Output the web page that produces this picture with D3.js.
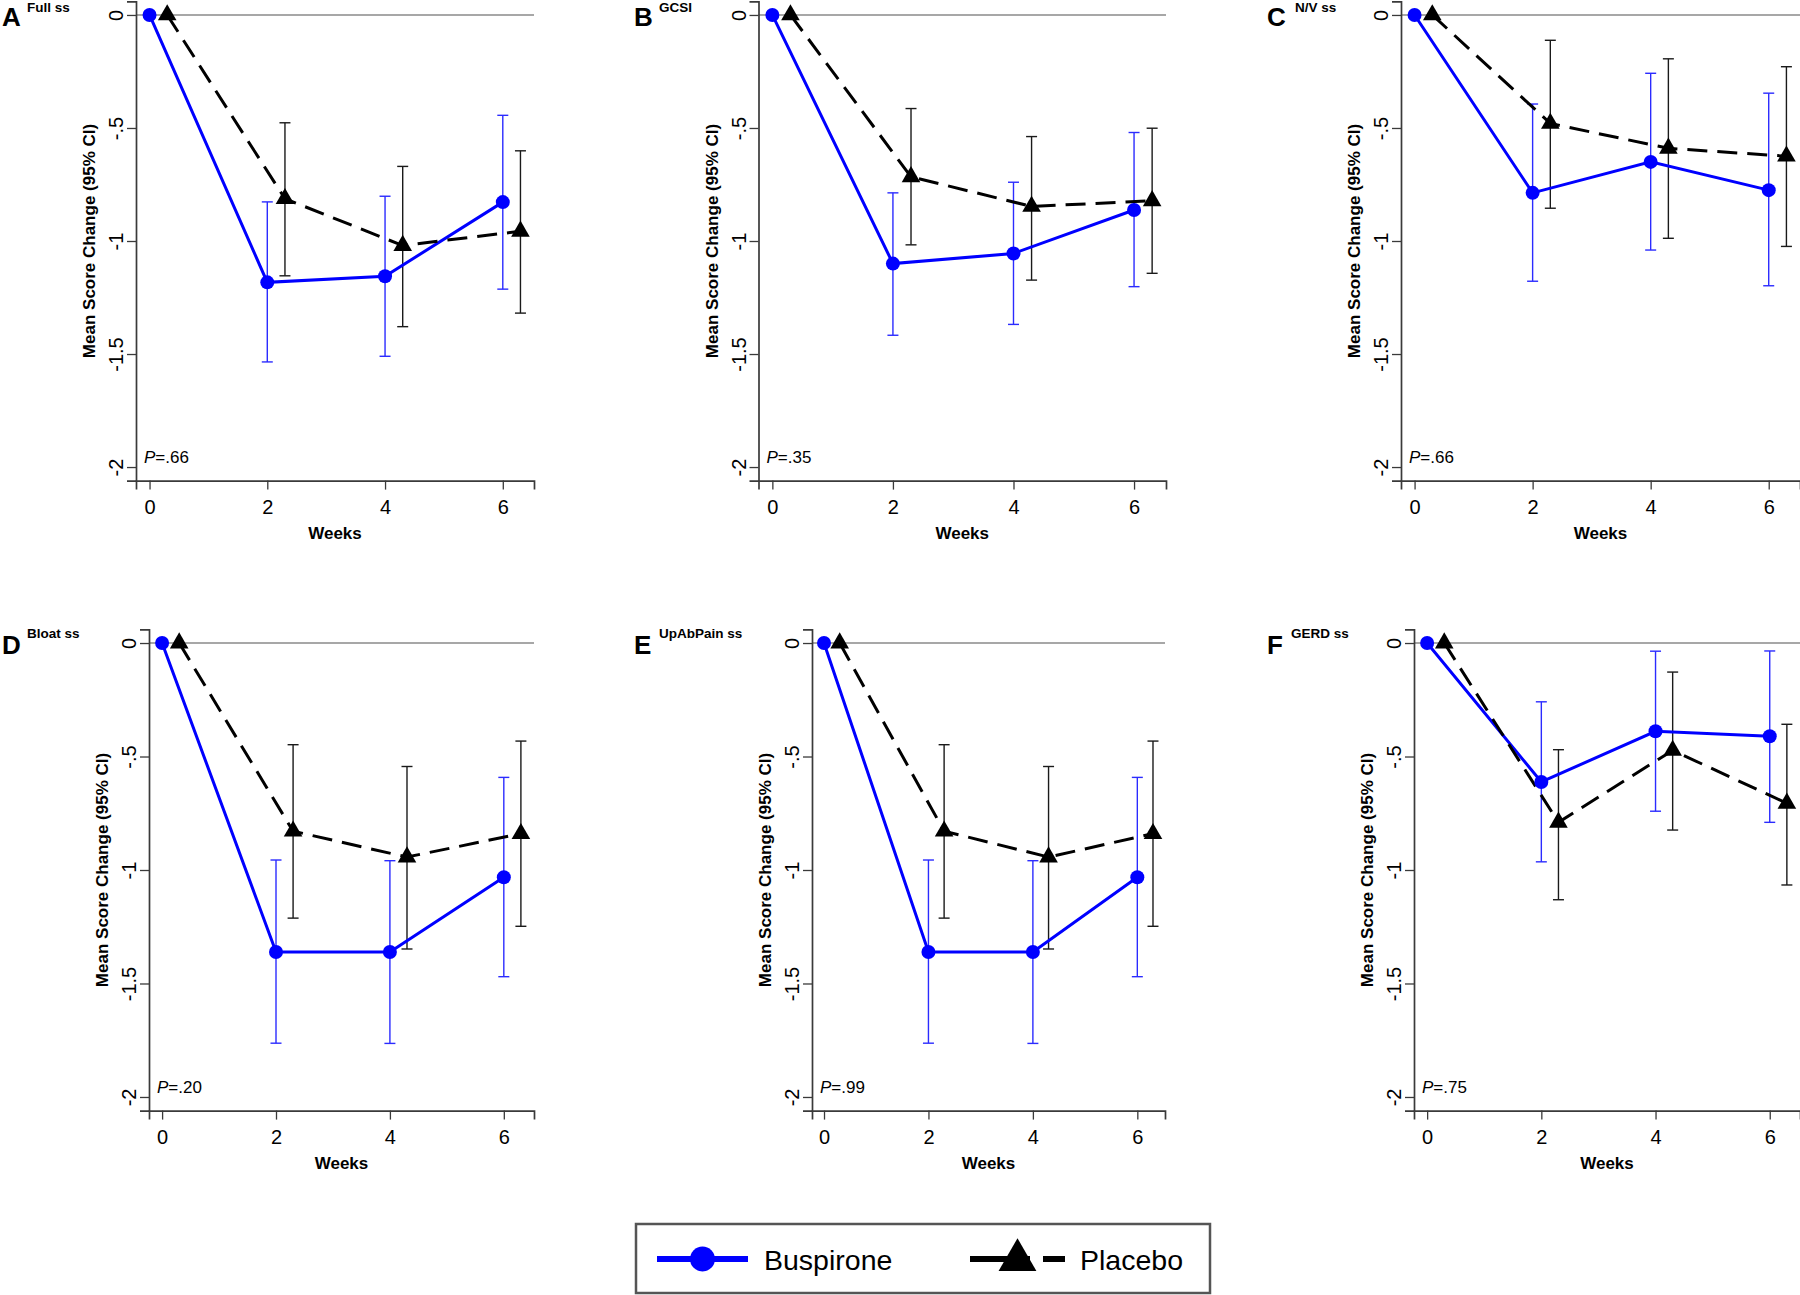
<!DOCTYPE html>
<html>
<head>
<meta charset="utf-8">
<script src="https://cdn.jsdelivr.net/npm/d3@7"></script>
<style>
  html, body { margin: 0; padding: 0; background: #fff; }
  svg { display: block; font-family: "Liberation Sans", Arial, sans-serif; }
</style>
</head>
<body>
<svg id="chart" width="1800" height="1295"></svg>
<script>
// ---------------- DATA ----------------
const panelLetters = ["A", "B", "C", "D", "E", "F"];
const panelTitles = ["Full ss", "GCSI", "N/V ss", "Bloat ss", "UpAbPain ss", "GERD ss"];
const pValues = [".66", ".35", ".66", ".20", ".99", ".75"];
const weeks = [0, 2, 4, 6];
const placeboWeekOffset = 0.3;
const seriesNames = ["Buspirone", "Placebo"];
const yTickValues = [0, -0.5, -1, -1.5, -2];
const yTickLabels = ["0", "-.5", "-1", "-1.5", "-2"];
const xTickValues = [0, 2, 4, 6];
const xTickLabels = ["0", "2", "4", "6"];
const yAxisTitle = "Mean Score Change (95% CI)";
const xAxisTitle = "Weeks";

// Buspirone mean change and 95% CI (per panel, per week)
const buspironeMean = [
  [0, -1.183, -1.156, -0.828],
  [0, -1.100, -1.055, -0.863],
  [0, -0.787, -0.650, -0.775],
  [0, -1.361, -1.361, -1.032],
  [0, -1.361, -1.361, -1.032],
  [0, -0.612, -0.389, -0.411]
];
const buspironeUpper = [
  [0, -0.827, -0.802, -0.444],
  [0, -0.787, -0.740, -0.520],
  [0, -0.394, -0.258, -0.346],
  [0, -0.956, -0.959, -0.592],
  [0, -0.956, -0.959, -0.592],
  [0, -0.259, -0.036, -0.035]
];
const buspironeLower = [
  [0, -1.535, -1.510, -1.213],
  [0, -1.417, -1.369, -1.202],
  [0, -1.178, -1.040, -1.198],
  [0, -1.763, -1.764, -1.470],
  [0, -1.763, -1.764, -1.470],
  [0, -0.964, -0.741, -0.790]
];
// Placebo mean change and 95% CI
const placeboMean = [
  [0, -0.813, -1.020, -0.957],
  [0, -0.716, -0.847, -0.822],
  [0, -0.480, -0.590, -0.625],
  [0, -0.829, -0.943, -0.840],
  [0, -0.829, -0.943, -0.840],
  [0, -0.790, -0.473, -0.706]
];
const placeboUpper = [
  [0, -0.477, -0.670, -0.601],
  [0, -0.414, -0.538, -0.501],
  [0, -0.112, -0.194, -0.229],
  [0, -0.448, -0.544, -0.432],
  [0, -0.448, -0.544, -0.432],
  [0, -0.470, -0.128, -0.358]
];
const placeboLower = [
  [0, -1.154, -1.379, -1.319],
  [0, -1.017, -1.173, -1.143],
  [0, -0.855, -0.988, -1.024],
  [0, -1.212, -1.348, -1.248],
  [0, -1.212, -1.348, -1.248],
  [0, -1.131, -0.824, -1.066]
];

// ---------------- LAYOUT ----------------
const rowLayout = [
  { top: 1.4, bottom: 480.6, letterY: 26, subY: 11.5 },
  { top: 629.4, bottom: 1110.6, letterY: 654, subY: 638 }
];
const panelLayout = [
  { row: 0, x0: 136, x1: 534, letterX: 2, subX: 27 },
  { row: 0, x0: 758.5, x1: 1166, letterX: 634, subX: 659 },
  { row: 0, x0: 1401, x1: 1800, letterX: 1267, subX: 1295 },
  { row: 1, x0: 149, x1: 534, letterX: 2, subX: 27 },
  { row: 1, x0: 812, x1: 1165, letterX: 634, subX: 659 },
  { row: 1, x0: 1414, x1: 1800, letterX: 1267, subX: 1291 }
];
const xDomain = [-0.23, 6.53];
const yDomain = [-2.06, 0.06];

const BLUE = "#0000ff";
const BLUE_ERR = "#2b2bff";
const BLACK = "#000000";
const AXIS = "#3a3a3a";

const svg = d3.select("#chart");

panelLetters.forEach((letter, i) => {
  const L = panelLayout[i];
  const R = rowLayout[L.row];
  const x = d3.scaleLinear().domain(xDomain).range([L.x0, L.x1]);
  const y = d3.scaleLinear().domain(yDomain).range([R.bottom, R.top]);
  const g = svg.append("g");

  // reference line at 0
  g.append("line")
    .attr("x1", L.x0).attr("x2", L.x1)
    .attr("y1", y(0)).attr("y2", y(0))
    .attr("stroke", "#8a8a8a").attr("stroke-width", 1.5);

  // Y axis
  const yAxis = d3.axisLeft(y).tickValues(yTickValues)
    .tickFormat((d, k) => yTickLabels[k]).tickSizeOuter(0).tickSize(9);
  const ya = g.append("g").attr("transform", `translate(${L.x0},0)`).call(yAxis);
  ya.select(".domain").attr("stroke", AXIS).attr("stroke-width", 1.7);
  ya.selectAll(".tick line").attr("stroke", AXIS).attr("stroke-width", 1.3);
  ya.selectAll(".tick text")
    .attr("transform", "rotate(-90)")
    .attr("x", 0).attr("y", -13).attr("dy", 0)
    .attr("text-anchor", "middle")
    .attr("font-size", 20).attr("fill", "#000")
    .attr("font-family", "Liberation Sans, Arial, sans-serif");

  // X axis
  const xAxis = d3.axisBottom(x).tickValues(xTickValues)
    .tickFormat((d, k) => xTickLabels[k]).tickSizeOuter(0).tickSize(9);
  const xa = g.append("g").attr("transform", `translate(0,${R.bottom})`).call(xAxis);
  xa.select(".domain").attr("stroke", AXIS).attr("stroke-width", 1.7);
  xa.selectAll(".tick line").attr("stroke", AXIS).attr("stroke-width", 1.3);
  xa.selectAll(".tick text")
    .attr("y", 33).attr("dy", 0)
    .attr("font-size", 20).attr("fill", "#000")
    .attr("font-family", "Liberation Sans, Arial, sans-serif");

  // axis titles
  g.append("text")
    .attr("transform", `translate(${L.x0 - 41},${(R.top + R.bottom) / 2}) rotate(-90)`)
    .attr("text-anchor", "middle").attr("font-weight", "bold").attr("font-size", 17)
    .text(yAxisTitle);
  g.append("text")
    .attr("x", (L.x0 + L.x1) / 2).attr("y", R.bottom + 58)
    .attr("text-anchor", "middle").attr("font-weight", "bold").attr("font-size", 17)
    .text(xAxisTitle);

  // panel letter & subtitle
  g.append("text").attr("x", L.letterX).attr("y", R.letterY)
    .attr("font-weight", "bold").attr("font-size", 26).text(letter);
  g.append("text").attr("x", L.subX).attr("y", R.subY)
    .attr("font-weight", "bold").attr("font-size", 13.5).text(panelTitles[i]);

  // P value
  const pt = g.append("text").attr("x", L.x0 + 8).attr("y", y(-2) - 4).attr("font-size", 17);
  pt.append("tspan").attr("font-style", "italic").text("P");
  pt.append("tspan").text("=" + pValues[i]);

  // series
  const series = [
    { xs: weeks.map(w => w), m: buspironeMean[i], up: buspironeUpper[i], lo: buspironeLower[i],
      color: BLUE, err: BLUE_ERR, dash: null, marker: "circle" },
    { xs: weeks.map(w => w + placeboWeekOffset), m: placeboMean[i], up: placeboUpper[i], lo: placeboLower[i],
      color: BLACK, err: "#1a1a1a", dash: "20,10", marker: "triangle" }
  ];

  // error bars
  series.forEach(s => {
    s.xs.forEach((xv, k) => {
      if (s.up[k] === s.lo[k]) return;
      const cx = x(xv);
      g.append("line").attr("x1", cx).attr("x2", cx)
        .attr("y1", y(s.up[k])).attr("y2", y(s.lo[k]))
        .attr("stroke", s.err).attr("stroke-width", 1.4);
      [s.up[k], s.lo[k]].forEach(v => {
        g.append("line").attr("x1", cx - 5.5).attr("x2", cx + 5.5)
          .attr("y1", y(v)).attr("y2", y(v))
          .attr("stroke", s.err).attr("stroke-width", 1.4);
      });
    });
  });

  // lines
  series.forEach(s => {
    const line = d3.line().x(d => x(d[0])).y(d => y(d[1]));
    g.append("path")
      .datum(s.xs.map((xv, k) => [xv, s.m[k]]))
      .attr("d", line)
      .attr("fill", "none")
      .attr("stroke", s.color)
      .attr("stroke-width", 3)
      .attr("stroke-dasharray", s.dash);
  });

  // markers
  series.forEach(s => {
    s.xs.forEach((xv, k) => {
      if (s.marker === "circle") {
        g.append("circle").attr("cx", x(xv)).attr("cy", y(s.m[k])).attr("r", 7).attr("fill", s.color);
      } else {
        g.append("path")
          .attr("d", d3.symbol().type(d3.symbolTriangle).size(150)())
          .attr("transform", `translate(${x(xv)},${y(s.m[k])})`)
          .attr("fill", s.color);
      }
    });
  });
});

// ---------------- LEGEND ----------------
const lg = svg.append("g");
lg.append("rect").attr("x", 636).attr("y", 1224).attr("width", 574).attr("height", 69)
  .attr("fill", "#fff").attr("stroke", "#555").attr("stroke-width", 2.5);

// Buspirone
lg.append("line").attr("x1", 657).attr("x2", 748).attr("y1", 1259).attr("y2", 1259)
  .attr("stroke", BLUE).attr("stroke-width", 6);
lg.append("circle").attr("cx", 702.5).attr("cy", 1259).attr("r", 12.5).attr("fill", BLUE);
lg.append("text").attr("x", 764).attr("y", 1269.5).attr("font-size", 28.5).text(seriesNames[0]);

// Placebo
lg.append("line").attr("x1", 970).attr("x2", 1065).attr("y1", 1259).attr("y2", 1259)
  .attr("stroke", BLACK).attr("stroke-width", 6).attr("stroke-dasharray", "60,13");
lg.append("path")
  .attr("d", d3.symbol().type(d3.symbolTriangle).size(620)())
  .attr("transform", "translate(1017.5,1260)")
  .attr("fill", BLACK);
lg.append("text").attr("x", 1080).attr("y", 1269.5).attr("font-size", 28.5).text(seriesNames[1]);
</script>
</body>
</html>
